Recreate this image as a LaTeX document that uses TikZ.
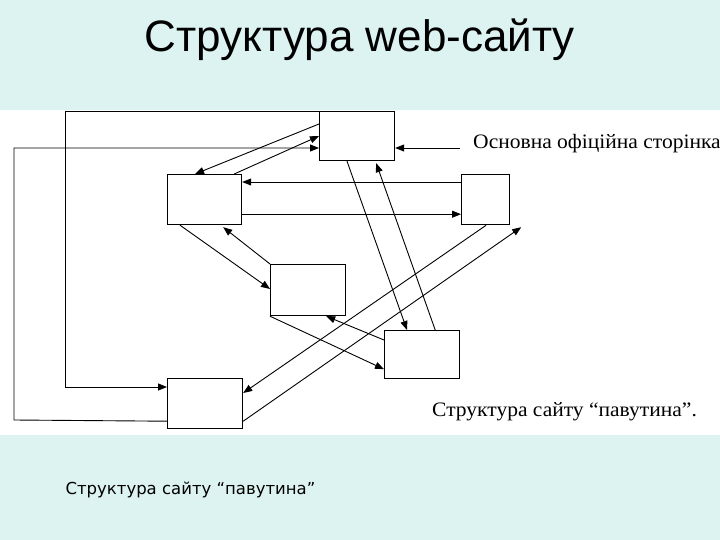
\documentclass[tikz,border=0pt]{standalone}
\usepackage{fontspec}
\setmainfont{Liberation Sans}
\newfontfamily\serifua{Liberation Serif}
\newfontfamily\capfont{DejaVu Sans}
\usetikzlibrary{arrows.meta,calc}
\definecolor{bgc}{HTML}{DDF3F1}
\begin{document}
\begin{tikzpicture}[x=1pt,y=-1pt,
  pg/.style={draw,line width=1.2pt,fill=white,minimum width=75pt,minimum height=49pt,inner sep=0pt,anchor=north west},
  ar/.style={-{Triangle[length=9pt,width=7pt]},line width=0.9pt}]
\fill[bgc] (0,0) rectangle (720,540);
\useasboundingbox (0,0) rectangle (720,540);
\fill[white] (0,110) rectangle (720,435);
\node (title) at (360,40) {\fontsize{44}{50}\selectfont Структура web-сайту};
\node[anchor=west] (cap) at (62,490) {\capfont\fontsize{16.5}{19}\selectfont Структура сайту “павутина”};
\node[anchor=west,inner sep=0pt,xscale=1.05] (lab1) at (473,144) {\serifua\fontsize{20.5}{22}\selectfont Основна офіційна сторінка};
\node[anchor=west,inner sep=0pt,xscale=1.05] (lab2) at (432,412) {\serifua\fontsize{20.5}{22}\selectfont Структура сайту “павутина”.};
\node[pg] (A) at (319,111) {};
\node[pg,minimum width=74pt,minimum height=50pt] (B) at (167,174) {};
\node[pg,minimum width=48pt,minimum height=50pt] (C) at (461,174) {};
\node[pg,minimum height=51pt] (D) at (270,264) {};
\node[pg,minimum height=48pt] (E) at (384,330) {};
\node[pg,minimum height=50pt] (F) at (167,378) {};
\coordinate (lt) at (460,148);
% A <-> B
\draw[ar] ($(A.north west)+(0,13)$) -- ($(B.north west)+(28,0)$);
\draw[ar] ($(B.north east)+(-8,0)$) -- ($(A.north west)+(0,25)$);
% long loops
\draw[ar] (A.north west) -- (65,111) -- (65,387) -- ($(F.north west)+(0,9)$);
\draw[ar] ($(F.south west)+(0,-8)$) -- (14,420) -- (14,148) -- ($(A.north west)+(0,37)$);
\draw[ar] (lt) -- ($(A.north east)+(0,37)$);
% B <-> C
\draw[ar] ($(C.north west)+(0,8)$) -- ($(B.north east)+(0,8)$);
\draw[ar] ($(B.south east)+(0,-11)$) -- ($(C.south west)+(0,-11)$);
% B <-> D
\draw[ar] ($(B.south west)+(13,0)$) -- ($(D.north west)+(0,25)$);
\draw[ar] ($(D.north west)+(0,0)$) -- ($(B.south east)+(-19,2)$);
% A <-> E
\draw[ar] ($(A.south west)+(28,0)$) -- ($(E.north west)+(23,0)$);
\draw[ar] ($(E.north east)+(-25,0)$) -- ($(A.south east)+(-19,2)$);
% D <-> E
\draw[ar] ($(E.north west)+(0,10)$) -- ($(D.south east)+(-20,0)$);
\draw[ar] (D.south west) -- ($(E.south west)+(0,-10)$);
% C <-> F
\draw[ar] ($(C.south east)+(-24,0)$) -- ($(F.north east)+(0,15)$);
\draw[ar] ($(F.south east)+(0,-8)$) -- ($(C.south east)+(11,2)$);
\end{tikzpicture}
\end{document}
